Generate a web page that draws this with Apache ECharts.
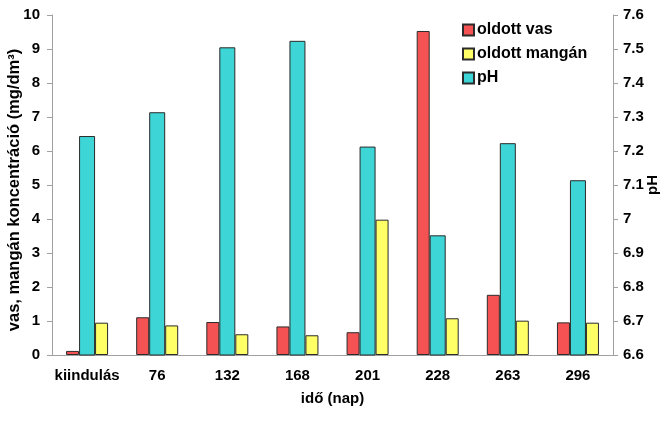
<!DOCTYPE html>
<html>
<head>
<meta charset="utf-8">
<script src="https://cdn.jsdelivr.net/npm/echarts@6/dist/echarts.min.js"></script>
<style>html,body{margin:0;padding:0;background:#fff}#c{width:669px;height:438px}</style>
</head>
<body>
<div id="c"></div>
<script>
var categories = ['kiindulás', '76', '132', '168', '201', '228', '263', '296'];
var vas = [0.12, 1.11, 0.97, 0.84, 0.67, 9.53, 1.77, 0.96];
var mangan = [0.95, 0.87, 0.61, 0.58, 3.98, 1.08, 1.01, 0.95];
var ph = [7.244, 7.314, 7.505, 7.524, 7.213, 6.952, 7.223, 7.114];

var font = 'Liberation Sans, Arial, sans-serif';
var chart = echarts.init(document.getElementById('c'));
var border = {borderColor: '#2b2b2b', borderWidth: 1};
chart.setOption({
  animation: false,
  textStyle: {fontFamily: font},
  grid: {left: 52, right: 56, top: 15, bottom: 83, outerBoundsMode: 'none', containLabel: false},
  legend: {
    orient: 'vertical', left: 462, top: 22, padding: 0, itemWidth: 11, itemHeight: 11, itemGap: 8,
    icon: 'rect',
    data: ['oldott vas', 'oldott mangán', 'pH'],
    textStyle: {fontFamily: font, fontWeight: 'bold', fontSize: 16, color: '#000', padding: [0, 0, 0, -2]}
  },
  xAxis: {
    type: 'category', data: categories,
    name: 'idő (nap)', nameLocation: 'middle', nameGap: 36, nameMoveOverlap: false,
    nameTextStyle: {fontFamily: font, fontWeight: 'bold', fontSize: 15, color: '#000'},
    axisLine: {lineStyle: {color: '#a0a0a0'}},
    axisTick: {lineStyle: {color: '#a0a0a0'}, length: 5},
    axisLabel: {interval: 0, fontFamily: font, fontWeight: 'bold', fontSize: 15, color: '#000', margin: 13}
  },
  yAxis: [{
    type: 'value', min: 0, max: 10, interval: 1,
    name: 'vas, mangán koncentráció (mg/dm³)', nameLocation: 'middle', nameGap: 29, nameRotate: 90, nameMoveOverlap: false,
    nameTextStyle: {fontFamily: font, fontWeight: 'bold', fontSize: 16.5, color: '#000', padding: [0, 10, 0, 0]},
    axisLine: {show: true, lineStyle: {color: '#a0a0a0'}},
    axisTick: {show: true, lineStyle: {color: '#a0a0a0'}, length: 5},
    splitLine: {show: false},
    axisLabel: {fontFamily: font, fontWeight: 'bold', fontSize: 15, color: '#000', margin: 12}
  }, {
    type: 'value', min: 6.6, max: 7.6, interval: 0.1, position: 'right',
    name: 'pH', nameLocation: 'middle', nameGap: 32, nameRotate: 90, nameMoveOverlap: false,
    nameTextStyle: {fontFamily: font, fontWeight: 'bold', fontSize: 15, color: '#000'},
    axisLine: {show: true, lineStyle: {color: '#a0a0a0'}},
    axisTick: {show: true, lineStyle: {color: '#a0a0a0'}, length: 5},
    splitLine: {show: false},
    axisLabel: {fontFamily: font, fontWeight: 'bold', fontSize: 15, color: '#000', margin: 10,
      formatter: function (v) { return String(Math.round(v * 10) / 10); }}
  }],
  series: [
    {name: 'oldott vas', type: 'bar', data: vas, barWidth: 13, barGap: 0, itemStyle: Object.assign({color: '#F55353'}, border)},
    {name: 'pH', type: 'bar', yAxisIndex: 1, data: ph, barWidth: 16, barGap: 0, itemStyle: Object.assign({color: '#3DD5D5'}, border)},
    {name: 'oldott mangán', type: 'bar', data: mangan, barWidth: 13, barGap: 0, itemStyle: Object.assign({color: '#FFFF66'}, border)}
  ]
});
</script>
</body>
</html>
